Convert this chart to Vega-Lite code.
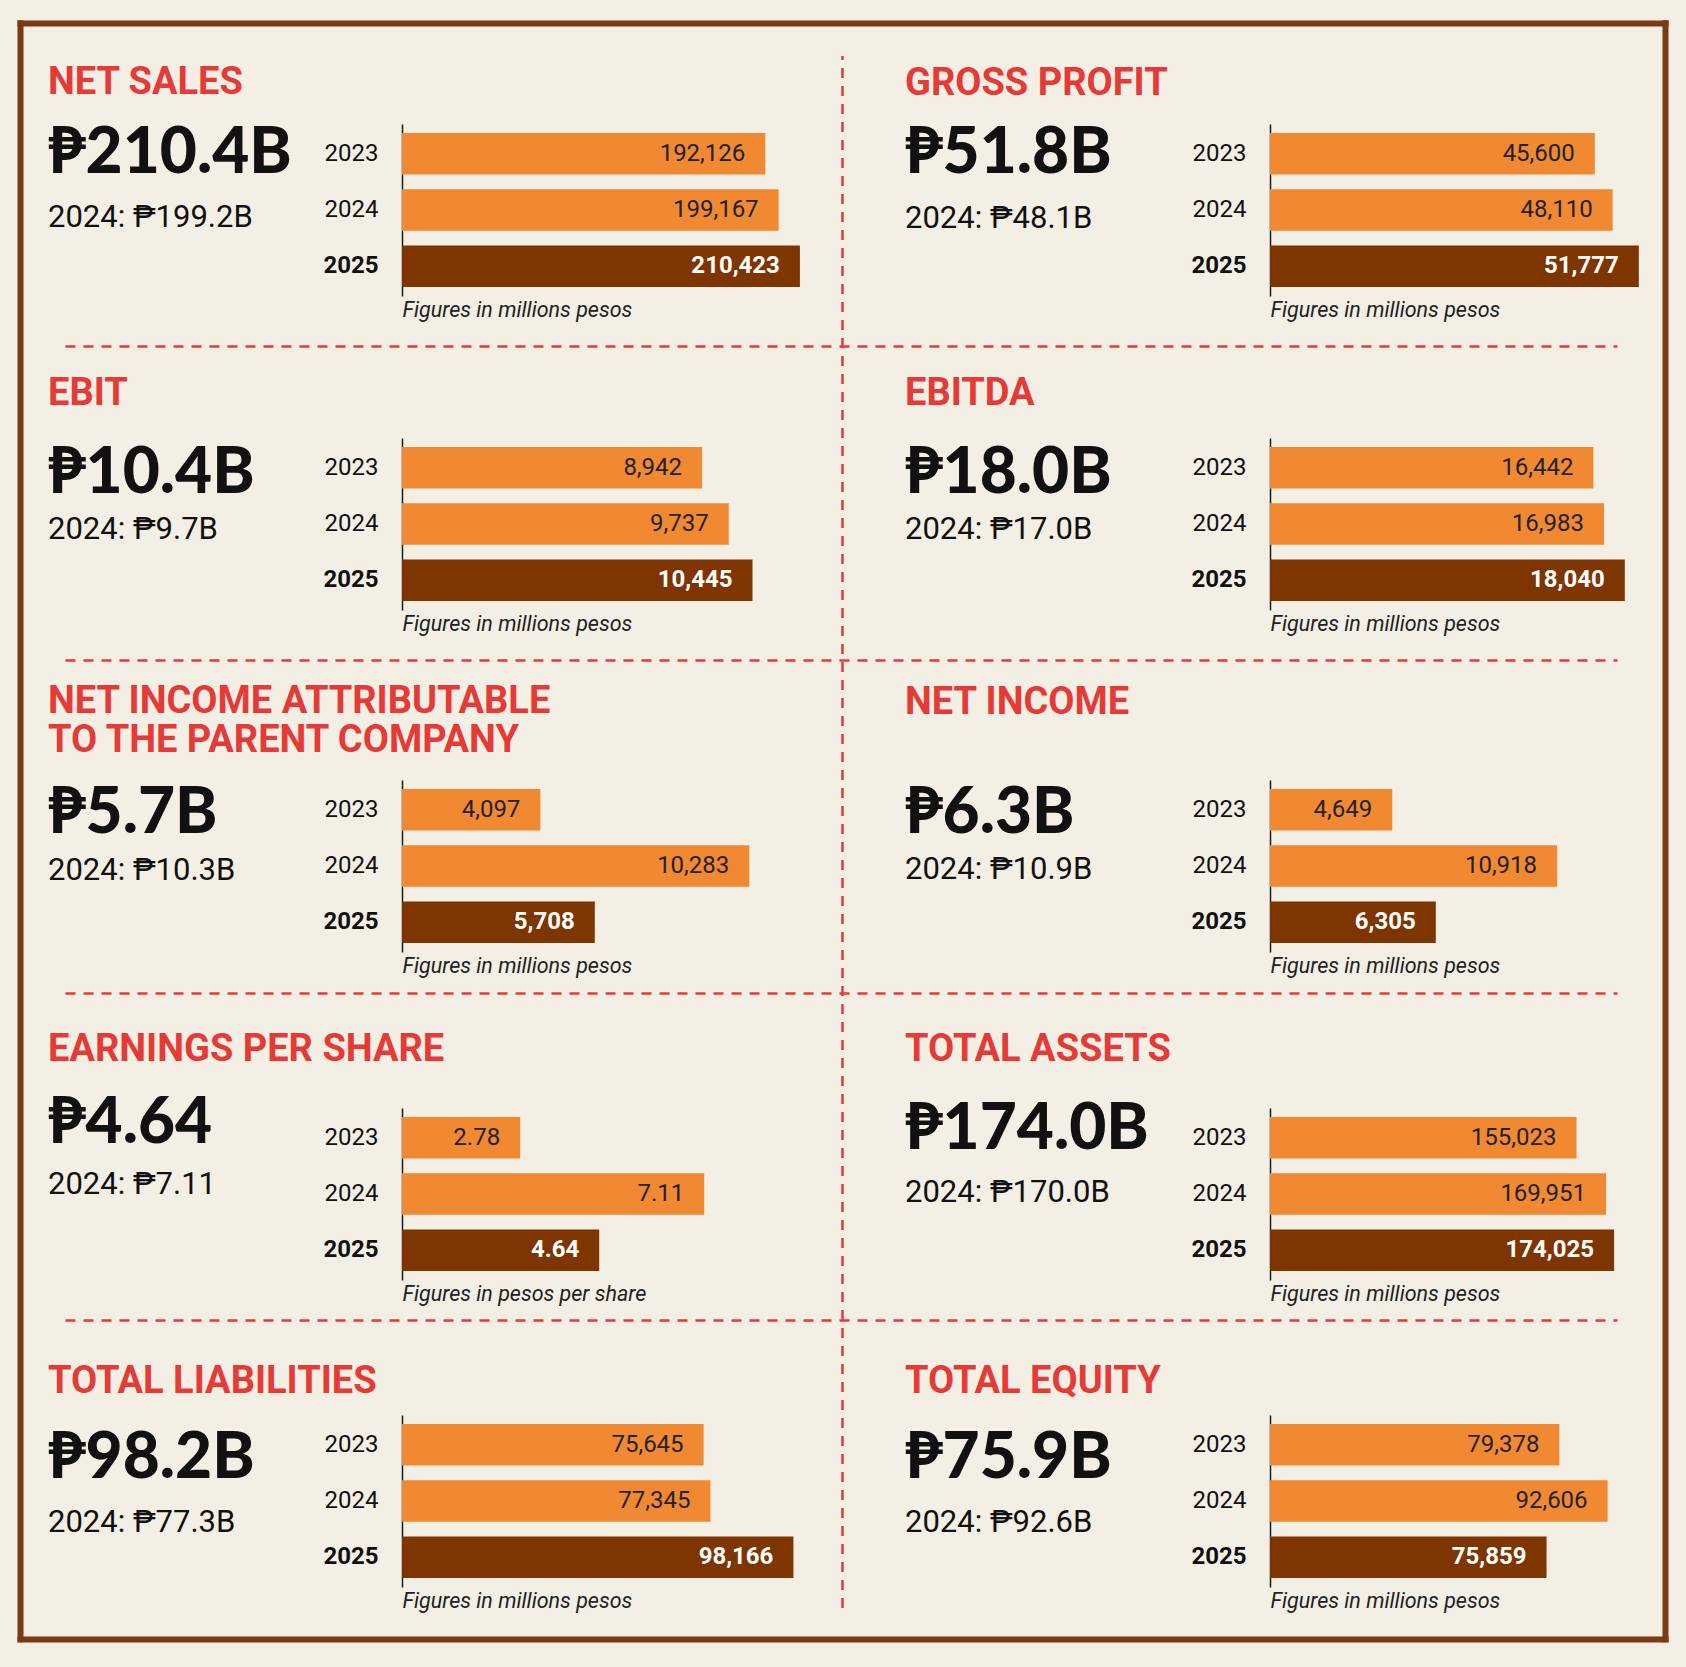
{
  "$schema": "https://vega.github.io/schema/vega-lite/v6.json",
  "background": "#F3EFE5",
  "padding": {"left": 15, "top": 18, "right": 20, "bottom": 27},
  "config": {
    "view": {"stroke": null},
    "font": "Roboto",
    "title": {"anchor": "start", "frame": "group", "dx": -354, "color": "#E63A36", "font": "Roboto", "fontSize": 38, "fontWeight": "bold", "lineHeight": 39,
              "subtitleFont": "Roboto", "subtitleFontSize": 31, "subtitleColor": "#111111", "subtitleFontWeight": "normal"}
  },
  "datasets": {
    "bars": [
      {"metric": "Net sales", "year": "2023", "value": 192126},
      {"metric": "Net sales", "year": "2024", "value": 199167},
      {"metric": "Net sales", "year": "2025", "value": 210423},
      {"metric": "Gross profit", "year": "2023", "value": 45600},
      {"metric": "Gross profit", "year": "2024", "value": 48110},
      {"metric": "Gross profit", "year": "2025", "value": 51777},
      {"metric": "EBIT", "year": "2023", "value": 8942},
      {"metric": "EBIT", "year": "2024", "value": 9737},
      {"metric": "EBIT", "year": "2025", "value": 10445},
      {"metric": "EBITDA", "year": "2023", "value": 16442},
      {"metric": "EBITDA", "year": "2024", "value": 16983},
      {"metric": "EBITDA", "year": "2025", "value": 18040},
      {"metric": "Net income attributable", "year": "2023", "value": 4097},
      {"metric": "Net income attributable", "year": "2024", "value": 10283},
      {"metric": "Net income attributable", "year": "2025", "value": 5708},
      {"metric": "Net income", "year": "2023", "value": 4649},
      {"metric": "Net income", "year": "2024", "value": 10918},
      {"metric": "Net income", "year": "2025", "value": 6305},
      {"metric": "EPS", "year": "2023", "value": 2.78},
      {"metric": "EPS", "year": "2024", "value": 7.11},
      {"metric": "EPS", "year": "2025", "value": 4.64},
      {"metric": "Total assets", "year": "2023", "value": 155023},
      {"metric": "Total assets", "year": "2024", "value": 169951},
      {"metric": "Total assets", "year": "2025", "value": 174025},
      {"metric": "Total liabilities", "year": "2023", "value": 75645},
      {"metric": "Total liabilities", "year": "2024", "value": 77345},
      {"metric": "Total liabilities", "year": "2025", "value": 98166},
      {"metric": "Total equity", "year": "2023", "value": 79378},
      {"metric": "Total equity", "year": "2024", "value": 92606},
      {"metric": "Total equity", "year": "2025", "value": 75859}
    ]
  },
  "columns": 2,
  "bounds": "flush",
  "spacing": {"row": 0, "column": 493},
  "concat": [
    {
      "width": 375, "height": 314,
      "title": {"text": "NET SALES", "subtitle": "2024: ₱199.2B", "offset": -215, "subtitlePadding": 101},
      "data": {"name": "bars"},
      "transform": [{"filter": "datum.metric === 'Net sales'"}],
      "resolve": {"scale": {"x": "independent", "y": "independent"}, "axis": {"x": "independent", "y": "independent"}},
      "layer": [
        {
          "encoding": {
            "y": {"field": "year", "type": "nominal", "scale": {"paddingInner": 0.265, "paddingOuter": 0.16, "range": [0, 172]},
                  "axis": {"title": "₱210.4B", "titleAngle": 0, "titleAlign": "left", "titleBaseline": "middle", "titleX": -354, "titleY": 29.5, "titleFont": "Lato", "titleFontSize": 64, "titleFontWeight": 900, "titleColor": "#111111",
                           "ticks": false, "domainColor": "#1a1a1a", "domainWidth": 1.5, "labelFont": "Roboto", "labelFontSize": 24, "labelColor": "#111111", "labelPadding": 24, "labelFontWeight": {"condition": {"test": "datum.value === '2025'", "value": "bold"}, "value": "normal"}}},
            "x": {"field": "value", "type": "quantitative", "scale": {"domain": [0, 198313], "nice": false},
                  "axis": {"title": "Figures in millions pesos", "offset": -142, "labels": false, "ticks": false, "domain": false, "grid": false, "titleFont": "Roboto", "titleFontStyle": "italic", "titleFontWeight": "normal", "titleFontSize": 21.5, "titleColor": "#222222", "titleAnchor": "start", "titlePadding": 3}}
          },
          "layer": [
            {"mark": {"type": "bar"}, "encoding": {"color": {"field": "year", "type": "nominal", "scale": {"domain": ["2023", "2024", "2025"], "range": ["#F18933", "#F18933", "#7E3500"]}, "legend": null}}},
            {"transform": [{"filter": "datum.year !== '2025'"}], "mark": {"type": "text", "align": "right", "baseline": "middle", "dx": -20, "font": "Roboto", "fontSize": 24, "color": "#222222"}, "encoding": {"text": {"field": "value", "format": ","}}},
            {"transform": [{"filter": "datum.year === '2025'"}], "mark": {"type": "text", "align": "right", "baseline": "middle", "dx": -20, "font": "Roboto", "fontSize": 24, "fontWeight": "bold", "color": "#FFFFFF"}, "encoding": {"text": {"field": "value", "format": ","}}}
          ]
        },
        {
          "data": {"values": []},
          "mark": "point",
          "encoding": {
            "x": {"datum": 0, "type": "quantitative", "scale": {"domain": [0, 1645], "range": [-382, 1263], "nice": false, "zero": false},
                  "axis": {"orient": "top", "offset": -1514.7, "values": [0, 1645], "domain": false, "ticks": true, "tickSize": 1616, "tickWidth": 6, "tickColor": "#7B3A12", "tickCap": "square", "labels": false, "grid": false, "title": null}},
            "y": {"datum": 0, "type": "quantitative", "scale": {"domain": [0, 1616], "range": [-101.3, 1514.7], "nice": false, "zero": false},
                  "axis": {"orient": "right", "offset": -757, "values": [0, 1616], "domain": false, "ticks": true, "tickSize": 1645, "tickWidth": 6, "tickColor": "#7B3A12", "tickCap": "square", "labels": false, "grid": false, "title": null}}
          }
        }
      ]
    },
    {
      "width": 375, "height": 314,
      "title": {"text": "GROSS PROFIT", "subtitle": "2024: ₱48.1B", "offset": -179.5, "subtitlePadding": 101, "dx": -365},
      "data": {"name": "bars"},
      "transform": [{"filter": "datum.metric === 'Gross profit'"}],
      "resolve": {"scale": {"x": "independent", "y": "independent"}, "axis": {"x": "independent", "y": "independent"}},
      "layer": [
        {
          "encoding": {
            "y": {"field": "year", "type": "nominal", "scale": {"paddingInner": 0.265, "paddingOuter": 0.16, "range": [0, 172]},
                  "axis": {"title": "₱51.8B", "titleAngle": 0, "titleAlign": "left", "titleBaseline": "middle", "titleX": -365, "titleY": 29.5, "titleFont": "Lato", "titleFontSize": 64, "titleFontWeight": 900, "titleColor": "#111111",
                           "ticks": false, "domainColor": "#1a1a1a", "domainWidth": 1.5, "labelFont": "Roboto", "labelFontSize": 24, "labelColor": "#111111", "labelPadding": 24, "labelFontWeight": {"condition": {"test": "datum.value === '2025'", "value": "bold"}, "value": "normal"}}},
            "x": {"field": "value", "type": "quantitative", "scale": {"domain": [0, 52647], "nice": false},
                  "axis": {"title": "Figures in millions pesos", "offset": -142, "labels": false, "ticks": false, "domain": false, "grid": false, "titleFont": "Roboto", "titleFontStyle": "italic", "titleFontWeight": "normal", "titleFontSize": 21.5, "titleColor": "#222222", "titleAnchor": "start", "titlePadding": 3}}
          },
          "layer": [
            {"mark": {"type": "bar"}, "encoding": {"color": {"field": "year", "type": "nominal", "scale": {"domain": ["2023", "2024", "2025"], "range": ["#F18933", "#F18933", "#7E3500"]}, "legend": null}}},
            {"transform": [{"filter": "datum.year !== '2025'"}], "mark": {"type": "text", "align": "right", "baseline": "middle", "dx": -20, "font": "Roboto", "fontSize": 24, "color": "#222222"}, "encoding": {"text": {"field": "value", "format": ","}}},
            {"transform": [{"filter": "datum.year === '2025'"}], "mark": {"type": "text", "align": "right", "baseline": "middle", "dx": -20, "font": "Roboto", "fontSize": 24, "fontWeight": "bold", "color": "#FFFFFF"}, "encoding": {"text": {"field": "value", "format": ","}}}
          ]
        },
        {
          "data": {"values": []},
          "mark": "point",
          "encoding": {
            "x": {"datum": 0, "type": "quantitative", "scale": {"domain": [0, 1552], "range": [-1205, 347], "nice": false, "zero": false},
                  "axis": {"orient": "top", "offset": -1483.4, "values": [776.5], "domain": false, "ticks": true, "tickSize": 1552, "tickWidth": 2.5, "tickColor": "#E63A36", "tickDash": [10, 8], "labels": false, "grid": false, "title": null}},
            "y": {"datum": 0, "type": "quantitative", "scale": {"domain": [0, 1552], "range": [-69.3, 1482.7], "nice": false, "zero": false},
                  "axis": {"orient": "right", "offset": -1580, "values": [291.5, 605.5, 938.6, 1265.5], "domain": false, "ticks": true, "tickSize": 1552, "tickWidth": 2.5, "tickColor": "#E63A36", "tickDash": [10, 8], "labels": false, "grid": false, "title": null}}
          }
        }
      ]
    },
    {
      "width": 375, "height": 342,
      "title": {"text": "EBIT", "subtitle": "2024: ₱9.7B", "offset": -107, "subtitlePadding": 102},
      "data": {"name": "bars"},
      "transform": [{"filter": "datum.metric === 'EBIT'"}],
      "encoding": {
        "y": {"field": "year", "type": "nominal", "scale": {"paddingInner": 0.265, "paddingOuter": 0.16, "range": [0, 172]},
              "axis": {"title": "₱10.4B", "titleAngle": 0, "titleAlign": "left", "titleBaseline": "middle", "titleX": -354, "titleY": 35, "titleFont": "Lato", "titleFontSize": 64, "titleFontWeight": 900, "titleColor": "#111111",
                       "ticks": false, "domainColor": "#1a1a1a", "domainWidth": 1.5, "labelFont": "Roboto", "labelFontSize": 24, "labelColor": "#111111", "labelPadding": 24, "labelFontWeight": {"condition": {"test": "datum.value === '2025'", "value": "bold"}, "value": "normal"}}},
        "x": {"field": "value", "type": "quantitative", "scale": {"domain": [0, 11175], "nice": false},
              "axis": {"title": "Figures in millions pesos", "offset": -170, "labels": false, "ticks": false, "domain": false, "grid": false, "titleFont": "Roboto", "titleFontStyle": "italic", "titleFontWeight": "normal", "titleFontSize": 21.5, "titleColor": "#222222", "titleAnchor": "start", "titlePadding": 3}}
      },
      "layer": [
        {"mark": {"type": "bar"}, "encoding": {"color": {"field": "year", "type": "nominal", "scale": {"domain": ["2023", "2024", "2025"], "range": ["#F18933", "#F18933", "#7E3500"]}, "legend": null}}},
        {"transform": [{"filter": "datum.year !== '2025'"}], "mark": {"type": "text", "align": "right", "baseline": "middle", "dx": -20, "font": "Roboto", "fontSize": 24, "color": "#222222"}, "encoding": {"text": {"field": "value", "format": ","}}},
        {"transform": [{"filter": "datum.year === '2025'"}], "mark": {"type": "text", "align": "right", "baseline": "middle", "dx": -20, "font": "Roboto", "fontSize": 24, "fontWeight": "bold", "color": "#FFFFFF"}, "encoding": {"text": {"field": "value", "format": ","}}}
      ]
    },
    {
      "width": 375, "height": 342,
      "title": {"text": "EBITDA", "subtitle": "2024: ₱17.0B", "offset": -107, "subtitlePadding": 102, "dx": -365},
      "data": {"name": "bars"},
      "transform": [{"filter": "datum.metric === 'EBITDA'"}],
      "encoding": {
        "y": {"field": "year", "type": "nominal", "scale": {"paddingInner": 0.265, "paddingOuter": 0.16, "range": [0, 172]},
              "axis": {"title": "₱18.0B", "titleAngle": 0, "titleAlign": "left", "titleBaseline": "middle", "titleX": -365, "titleY": 35, "titleFont": "Lato", "titleFontSize": 64, "titleFontWeight": 900, "titleColor": "#111111",
                       "ticks": false, "domainColor": "#1a1a1a", "domainWidth": 1.5, "labelFont": "Roboto", "labelFontSize": 24, "labelColor": "#111111", "labelPadding": 24, "labelFontWeight": {"condition": {"test": "datum.value === '2025'", "value": "bold"}, "value": "normal"}}},
        "x": {"field": "value", "type": "quantitative", "scale": {"domain": [0, 19067], "nice": false},
              "axis": {"title": "Figures in millions pesos", "offset": -170, "labels": false, "ticks": false, "domain": false, "grid": false, "titleFont": "Roboto", "titleFontStyle": "italic", "titleFontWeight": "normal", "titleFontSize": 21.5, "titleColor": "#222222", "titleAnchor": "start", "titlePadding": 3}}
      },
      "layer": [
        {"mark": {"type": "bar"}, "encoding": {"color": {"field": "year", "type": "nominal", "scale": {"domain": ["2023", "2024", "2025"], "range": ["#F18933", "#F18933", "#7E3500"]}, "legend": null}}},
        {"transform": [{"filter": "datum.year !== '2025'"}], "mark": {"type": "text", "align": "right", "baseline": "middle", "dx": -20, "font": "Roboto", "fontSize": 24, "color": "#222222"}, "encoding": {"text": {"field": "value", "format": ","}}},
        {"transform": [{"filter": "datum.year === '2025'"}], "mark": {"type": "text", "align": "right", "baseline": "middle", "dx": -20, "font": "Roboto", "fontSize": 24, "fontWeight": "bold", "color": "#FFFFFF"}, "encoding": {"text": {"field": "value", "format": ","}}}
      ]
    },
    {
      "width": 375, "height": 328,
      "title": {"text": ["NET INCOME ATTRIBUTABLE", "TO THE PARENT COMPANY"], "subtitle": "2024: ₱10.3B", "offset": -106, "subtitlePadding": 96},
      "data": {"name": "bars"},
      "transform": [{"filter": "datum.metric === 'Net income attributable'"}],
      "encoding": {
        "y": {"field": "year", "type": "nominal", "scale": {"paddingInner": 0.265, "paddingOuter": 0.16, "range": [0, 172]},
              "axis": {"title": "₱5.7B", "titleAngle": 0, "titleAlign": "left", "titleBaseline": "middle", "titleX": -354, "titleY": 33.5, "titleFont": "Lato", "titleFontSize": 64, "titleFontWeight": 900, "titleColor": "#111111",
                       "ticks": false, "domainColor": "#1a1a1a", "domainWidth": 1.5, "labelFont": "Roboto", "labelFontSize": 24, "labelColor": "#111111", "labelPadding": 24, "labelFontWeight": {"condition": {"test": "datum.value === '2025'", "value": "bold"}, "value": "normal"}}},
        "x": {"field": "value", "type": "quantitative", "scale": {"domain": [0, 11103], "nice": false},
              "axis": {"title": "Figures in millions pesos", "offset": -156, "labels": false, "ticks": false, "domain": false, "grid": false, "titleFont": "Roboto", "titleFontStyle": "italic", "titleFontWeight": "normal", "titleFontSize": 21.5, "titleColor": "#222222", "titleAnchor": "start", "titlePadding": 3}}
      },
      "layer": [
        {"mark": {"type": "bar"}, "encoding": {"color": {"field": "year", "type": "nominal", "scale": {"domain": ["2023", "2024", "2025"], "range": ["#F18933", "#F18933", "#7E3500"]}, "legend": null}}},
        {"transform": [{"filter": "datum.year !== '2025'"}], "mark": {"type": "text", "align": "right", "baseline": "middle", "dx": -20, "font": "Roboto", "fontSize": 24, "color": "#222222"}, "encoding": {"text": {"field": "value", "format": ","}}},
        {"transform": [{"filter": "datum.year === '2025'"}], "mark": {"type": "text", "align": "right", "baseline": "middle", "dx": -20, "font": "Roboto", "fontSize": 24, "fontWeight": "bold", "color": "#FFFFFF"}, "encoding": {"text": {"field": "value", "format": ","}}}
      ]
    },
    {
      "width": 375, "height": 328,
      "title": {"text": "NET INCOME", "subtitle": "2024: ₱10.9B", "offset": -105, "subtitlePadding": 133, "dx": -365},
      "data": {"name": "bars"},
      "transform": [{"filter": "datum.metric === 'Net income'"}],
      "encoding": {
        "y": {"field": "year", "type": "nominal", "scale": {"paddingInner": 0.265, "paddingOuter": 0.16, "range": [0, 172]},
              "axis": {"title": "₱6.3B", "titleAngle": 0, "titleAlign": "left", "titleBaseline": "middle", "titleX": -365, "titleY": 33.5, "titleFont": "Lato", "titleFontSize": 64, "titleFontWeight": 900, "titleColor": "#111111",
                       "ticks": false, "domainColor": "#1a1a1a", "domainWidth": 1.5, "labelFont": "Roboto", "labelFontSize": 24, "labelColor": "#111111", "labelPadding": 24, "labelFontWeight": {"condition": {"test": "datum.value === '2025'", "value": "bold"}, "value": "normal"}}},
        "x": {"field": "value", "type": "quantitative", "scale": {"domain": [0, 14261], "nice": false},
              "axis": {"title": "Figures in millions pesos", "offset": -156, "labels": false, "ticks": false, "domain": false, "grid": false, "titleFont": "Roboto", "titleFontStyle": "italic", "titleFontWeight": "normal", "titleFontSize": 21.5, "titleColor": "#222222", "titleAnchor": "start", "titlePadding": 3}}
      },
      "layer": [
        {"mark": {"type": "bar"}, "encoding": {"color": {"field": "year", "type": "nominal", "scale": {"domain": ["2023", "2024", "2025"], "range": ["#F18933", "#F18933", "#7E3500"]}, "legend": null}}},
        {"transform": [{"filter": "datum.year !== '2025'"}], "mark": {"type": "text", "align": "right", "baseline": "middle", "dx": -20, "font": "Roboto", "fontSize": 24, "color": "#222222"}, "encoding": {"text": {"field": "value", "format": ","}}},
        {"transform": [{"filter": "datum.year === '2025'"}], "mark": {"type": "text", "align": "right", "baseline": "middle", "dx": -20, "font": "Roboto", "fontSize": 24, "fontWeight": "bold", "color": "#FFFFFF"}, "encoding": {"text": {"field": "value", "format": ","}}}
      ]
    },
    {
      "width": 375, "height": 306.5,
      "title": {"text": "EARNINGS PER SHARE", "subtitle": "2024: ₱7.11", "offset": -108.6, "subtitlePadding": 101},
      "data": {"name": "bars"},
      "transform": [{"filter": "datum.metric === 'EPS'"}],
      "encoding": {
        "y": {"field": "year", "type": "nominal", "scale": {"paddingInner": 0.265, "paddingOuter": 0.16, "range": [0, 172]},
              "axis": {"title": "₱4.64", "titleAngle": 0, "titleAlign": "left", "titleBaseline": "middle", "titleX": -354, "titleY": 15.5, "titleFont": "Lato", "titleFontSize": 64, "titleFontWeight": 900, "titleColor": "#111111",
                       "ticks": false, "domainColor": "#1a1a1a", "domainWidth": 1.5, "labelFont": "Roboto", "labelFontSize": 24, "labelColor": "#111111", "labelPadding": 24, "labelFontWeight": {"condition": {"test": "datum.value === '2025'", "value": "bold"}, "value": "normal"}}},
        "x": {"field": "value", "type": "quantitative", "scale": {"domain": [0, 8.823], "nice": false},
              "axis": {"title": "Figures in pesos per share", "offset": -134.5, "labels": false, "ticks": false, "domain": false, "grid": false, "titleFont": "Roboto", "titleFontStyle": "italic", "titleFontWeight": "normal", "titleFontSize": 21.5, "titleColor": "#222222", "titleAnchor": "start", "titlePadding": 3}}
      },
      "layer": [
        {"mark": {"type": "bar"}, "encoding": {"color": {"field": "year", "type": "nominal", "scale": {"domain": ["2023", "2024", "2025"], "range": ["#F18933", "#F18933", "#7E3500"]}, "legend": null}}},
        {"transform": [{"filter": "datum.year !== '2025'"}], "mark": {"type": "text", "align": "right", "baseline": "middle", "dx": -20, "font": "Roboto", "fontSize": 24, "color": "#222222"}, "encoding": {"text": {"field": "value", "format": ".2f"}}},
        {"transform": [{"filter": "datum.year === '2025'"}], "mark": {"type": "text", "align": "right", "baseline": "middle", "dx": -20, "font": "Roboto", "fontSize": 24, "fontWeight": "bold", "color": "#FFFFFF"}, "encoding": {"text": {"field": "value", "format": ".2f"}}}
      ]
    },
    {
      "width": 375, "height": 306.5,
      "title": {"text": "TOTAL ASSETS", "subtitle": "2024: ₱170.0B", "offset": -110.9, "subtitlePadding": 108.5, "dx": -365},
      "data": {"name": "bars"},
      "transform": [{"filter": "datum.metric === 'Total assets'"}],
      "encoding": {
        "y": {"field": "year", "type": "nominal", "scale": {"paddingInner": 0.265, "paddingOuter": 0.16, "range": [0, 172]},
              "axis": {"title": "₱174.0B", "titleAngle": 0, "titleAlign": "left", "titleBaseline": "middle", "titleX": -365, "titleY": 21, "titleFont": "Lato", "titleFontSize": 64, "titleFontWeight": 900, "titleColor": "#111111",
                       "ticks": false, "domainColor": "#1a1a1a", "domainWidth": 1.5, "labelFont": "Roboto", "labelFontSize": 24, "labelColor": "#111111", "labelPadding": 24, "labelFontWeight": {"condition": {"test": "datum.value === '2025'", "value": "bold"}, "value": "normal"}}},
        "x": {"field": "value", "type": "quantitative", "scale": {"domain": [0, 189657], "nice": false},
              "axis": {"title": "Figures in millions pesos", "offset": -134.5, "labels": false, "ticks": false, "domain": false, "grid": false, "titleFont": "Roboto", "titleFontStyle": "italic", "titleFontWeight": "normal", "titleFontSize": 21.5, "titleColor": "#222222", "titleAnchor": "start", "titlePadding": 3}}
      },
      "layer": [
        {"mark": {"type": "bar"}, "encoding": {"color": {"field": "year", "type": "nominal", "scale": {"domain": ["2023", "2024", "2025"], "range": ["#F18933", "#F18933", "#7E3500"]}, "legend": null}}},
        {"transform": [{"filter": "datum.year !== '2025'"}], "mark": {"type": "text", "align": "right", "baseline": "middle", "dx": -20, "font": "Roboto", "fontSize": 24, "color": "#222222"}, "encoding": {"text": {"field": "value", "format": ","}}},
        {"transform": [{"filter": "datum.year === '2025'"}], "mark": {"type": "text", "align": "right", "baseline": "middle", "dx": -20, "font": "Roboto", "fontSize": 24, "fontWeight": "bold", "color": "#FFFFFF"}, "encoding": {"text": {"field": "value", "format": ","}}}
      ]
    },
    {
      "width": 375, "height": 172,
      "title": {"text": "TOTAL LIABILITIES", "subtitle": "2024: ₱77.3B", "offset": -123.3, "subtitlePadding": 107.4},
      "data": {"name": "bars"},
      "transform": [{"filter": "datum.metric === 'Total liabilities'"}],
      "encoding": {
        "y": {"field": "year", "type": "nominal", "scale": {"paddingInner": 0.265, "paddingOuter": 0.16, "range": [0, 172]},
              "axis": {"title": "₱98.2B", "titleAngle": 0, "titleAlign": "left", "titleBaseline": "middle", "titleX": -354, "titleY": 43, "titleFont": "Lato", "titleFontSize": 64, "titleFontWeight": 900, "titleColor": "#111111",
                       "ticks": false, "domainColor": "#1a1a1a", "domainWidth": 1.5, "labelFont": "Roboto", "labelFontSize": 24, "labelColor": "#111111", "labelPadding": 24, "labelFontWeight": {"condition": {"test": "datum.value === '2025'", "value": "bold"}, "value": "normal"}}},
        "x": {"field": "value", "type": "quantitative", "scale": {"domain": [0, 94053], "nice": false},
              "axis": {"title": "Figures in millions pesos", "offset": 0, "labels": false, "ticks": false, "domain": false, "grid": false, "titleFont": "Roboto", "titleFontStyle": "italic", "titleFontWeight": "normal", "titleFontSize": 21.5, "titleColor": "#222222", "titleAnchor": "start", "titlePadding": 3}}
      },
      "layer": [
        {"mark": {"type": "bar"}, "encoding": {"color": {"field": "year", "type": "nominal", "scale": {"domain": ["2023", "2024", "2025"], "range": ["#F18933", "#F18933", "#7E3500"]}, "legend": null}}},
        {"transform": [{"filter": "datum.year !== '2025'"}], "mark": {"type": "text", "align": "right", "baseline": "middle", "dx": -20, "font": "Roboto", "fontSize": 24, "color": "#222222"}, "encoding": {"text": {"field": "value", "format": ","}}},
        {"transform": [{"filter": "datum.year === '2025'"}], "mark": {"type": "text", "align": "right", "baseline": "middle", "dx": -20, "font": "Roboto", "fontSize": 24, "fontWeight": "bold", "color": "#FFFFFF"}, "encoding": {"text": {"field": "value", "format": ","}}}
      ]
    },
    {
      "width": 375, "height": 172,
      "title": {"text": "TOTAL EQUITY", "subtitle": "2024: ₱92.6B", "offset": -123.3, "subtitlePadding": 107.4, "dx": -365},
      "data": {"name": "bars"},
      "transform": [{"filter": "datum.metric === 'Total equity'"}],
      "encoding": {
        "y": {"field": "year", "type": "nominal", "scale": {"paddingInner": 0.265, "paddingOuter": 0.16, "range": [0, 172]},
              "axis": {"title": "₱75.9B", "titleAngle": 0, "titleAlign": "left", "titleBaseline": "middle", "titleX": -365, "titleY": 43, "titleFont": "Lato", "titleFontSize": 64, "titleFontWeight": 900, "titleColor": "#111111",
                       "ticks": false, "domainColor": "#1a1a1a", "domainWidth": 1.5, "labelFont": "Roboto", "labelFontSize": 24, "labelColor": "#111111", "labelPadding": 24, "labelFontWeight": {"condition": {"test": "datum.value === '2025'", "value": "bold"}, "value": "normal"}}},
        "x": {"field": "value", "type": "quantitative", "scale": {"domain": [0, 102865], "nice": false},
              "axis": {"title": "Figures in millions pesos", "offset": 0, "labels": false, "ticks": false, "domain": false, "grid": false, "titleFont": "Roboto", "titleFontStyle": "italic", "titleFontWeight": "normal", "titleFontSize": 21.5, "titleColor": "#222222", "titleAnchor": "start", "titlePadding": 3}}
      },
      "layer": [
        {"mark": {"type": "bar"}, "encoding": {"color": {"field": "year", "type": "nominal", "scale": {"domain": ["2023", "2024", "2025"], "range": ["#F18933", "#F18933", "#7E3500"]}, "legend": null}}},
        {"transform": [{"filter": "datum.year !== '2025'"}], "mark": {"type": "text", "align": "right", "baseline": "middle", "dx": -20, "font": "Roboto", "fontSize": 24, "color": "#222222"}, "encoding": {"text": {"field": "value", "format": ","}}},
        {"transform": [{"filter": "datum.year === '2025'"}], "mark": {"type": "text", "align": "right", "baseline": "middle", "dx": -20, "font": "Roboto", "fontSize": 24, "fontWeight": "bold", "color": "#FFFFFF"}, "encoding": {"text": {"field": "value", "format": ","}}}
      ]
    }
  ]
}
